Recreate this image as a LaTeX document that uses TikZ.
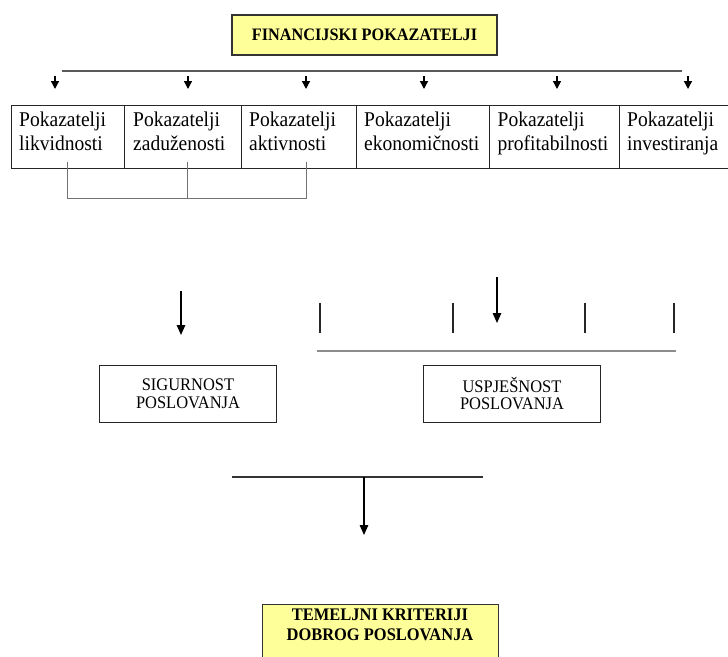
\documentclass[tikz,border=0pt]{standalone}
\usepackage{fontspec}
\setmainfont[FakeStretch=0.93]{Liberation Serif}
\usetikzlibrary{arrows.meta}
\definecolor{boxyellow}{RGB}{255,255,153}
\begin{document}
\begin{tikzpicture}[x=1pt,y=-1pt,
  cellbox/.style={draw=black!85, line width=0.9pt, minimum width=#1, minimum height=63pt, anchor=north west, inner sep=0pt, outer sep=0pt},
  celltext/.style={anchor=north west, inner sep=0pt, align=left, font=\fontsize{21}{24}\selectfont},
  ybox/.style={draw=black!80, line width=1.3pt, fill=boxyellow, inner sep=0pt},
  wbox/.style={draw=black!85, line width=1pt, inner sep=0pt, align=center, minimum width=177pt, minimum height=57pt, font=\fontsize{17.7}{17.8}\selectfont},
  boldtext/.style={inner sep=0pt, align=center, font=\fontsize{17.7}{20}\selectfont\bfseries},
  smallarrow/.style={line width=1.4pt, -{Triangle[width=8pt,length=8pt]}},
  bigarrow/.style={line width=1.4pt, -{Triangle[width=8.5pt,length=10pt]}},
  topline/.style={draw=black!65, line width=1.8pt},
  graybracket/.style={draw=black!55, line width=0.9pt},
  tick/.style={draw=black!85, line width=1.1pt},
  midline/.style={draw=black!45, line width=1.6pt},
  lowline/.style={draw=black!80, line width=1.3pt}
]
\clip (0,0) rectangle (728,656);

% top box
\node[ybox, minimum width=265pt, minimum height=40pt, font=\fontsize{17.5}{19}\selectfont\bfseries] (fp) at (364.5,35) {FINANCIJSKI POKAZATELJI};

% top horizontal line
\coordinate (hl) at (62,71);
\coordinate (hr) at (682,71);
\draw[topline] (hl) -- (hr);

% small arrows
\foreach \x [count=\i] in {55,188,306,424,557,688} {
  \coordinate (as\i) at (\x,76);
  \coordinate (ae\i) at (\x,89);
  \draw[smallarrow] (as\i) -- (ae\i);
}

% table cells
\node[cellbox=113.5pt] (c1) at (11,105) {};
\node[cellbox=116.5pt] (c2) at (124.5,105) {};
\node[cellbox=115pt] (c3) at (241,105) {};
\node[cellbox=133pt] (c4) at (356,105) {};
\node[cellbox=130pt] (c5) at (489,105) {};
\node[cellbox=130pt] (c6) at (619,105) {};

\node[celltext] (t1) at (19,111.7) {Pokazatelji\\likvidnosti};
\node[celltext] (t2) at (133,111.7) {Pokazatelji\\zaduženosti};
\node[celltext] (t3) at (249,111.7) {Pokazatelji\\aktivnosti};
\node[celltext] (t4) at (364,111.7) {Pokazatelji\\ekonomičnosti};
\node[celltext] (t5) at (497.5,111.7) {Pokazatelji\\profitabilnosti};
\node[celltext] (t6) at (627,111.7) {Pokazatelji\\investiranja};

% bracket
\coordinate (b1) at (67,162);
\coordinate (b1d) at (67,198);
\coordinate (b2) at (187,162);
\coordinate (b2d) at (187,198);
\coordinate (b3) at (306,162);
\coordinate (b3d) at (306,198);
\draw[graybracket] (b1) -- (b1d) -- (b3d) -- (b3);
\draw[graybracket] (b2) -- (b2d);

% arrows to middle level
\coordinate (la1) at (181,291);
\coordinate (la2) at (181,335);
\draw[bigarrow] (la1) -- (la2);
\coordinate (ra1) at (497,277);
\coordinate (ra2) at (497,323);
\draw[bigarrow] (ra1) -- (ra2);

% ticks
\foreach \x [count=\i] in {320,453,585,674} {
  \coordinate (tk\i) at (\x,303);
  \coordinate (tb\i) at (\x,333);
  \draw[tick] (tk\i) -- (tb\i);
}

% middle line
\coordinate (ml) at (317,351);
\coordinate (mr) at (676,351);
\draw[midline] (ml) -- (mr);

% boxes
\node[wbox] (sig) at (188,393.5) {SIGURNOST\\POSLOVANJA};
\node[wbox] (usp) at (512,393.5) {USPJEŠNOST\\POSLOVANJA};

% lower line and arrow
\coordinate (ll) at (232,477);
\coordinate (lr) at (483,477);
\draw[lowline] (ll) -- (lr);
\coordinate (lm) at (364,477);
\coordinate (lmd) at (364,535);
\draw[bigarrow] (lm) -- (lmd);

% bottom box
\node[ybox, minimum width=236pt, minimum height=70pt, anchor=north west] (bb) at (262,604) {};
\node[boldtext, anchor=north] (bbt) at (380,608.3) {TEMELJNI KRITERIJI\\DOBROG POSLOVANJA};
\end{tikzpicture}
\end{document}
